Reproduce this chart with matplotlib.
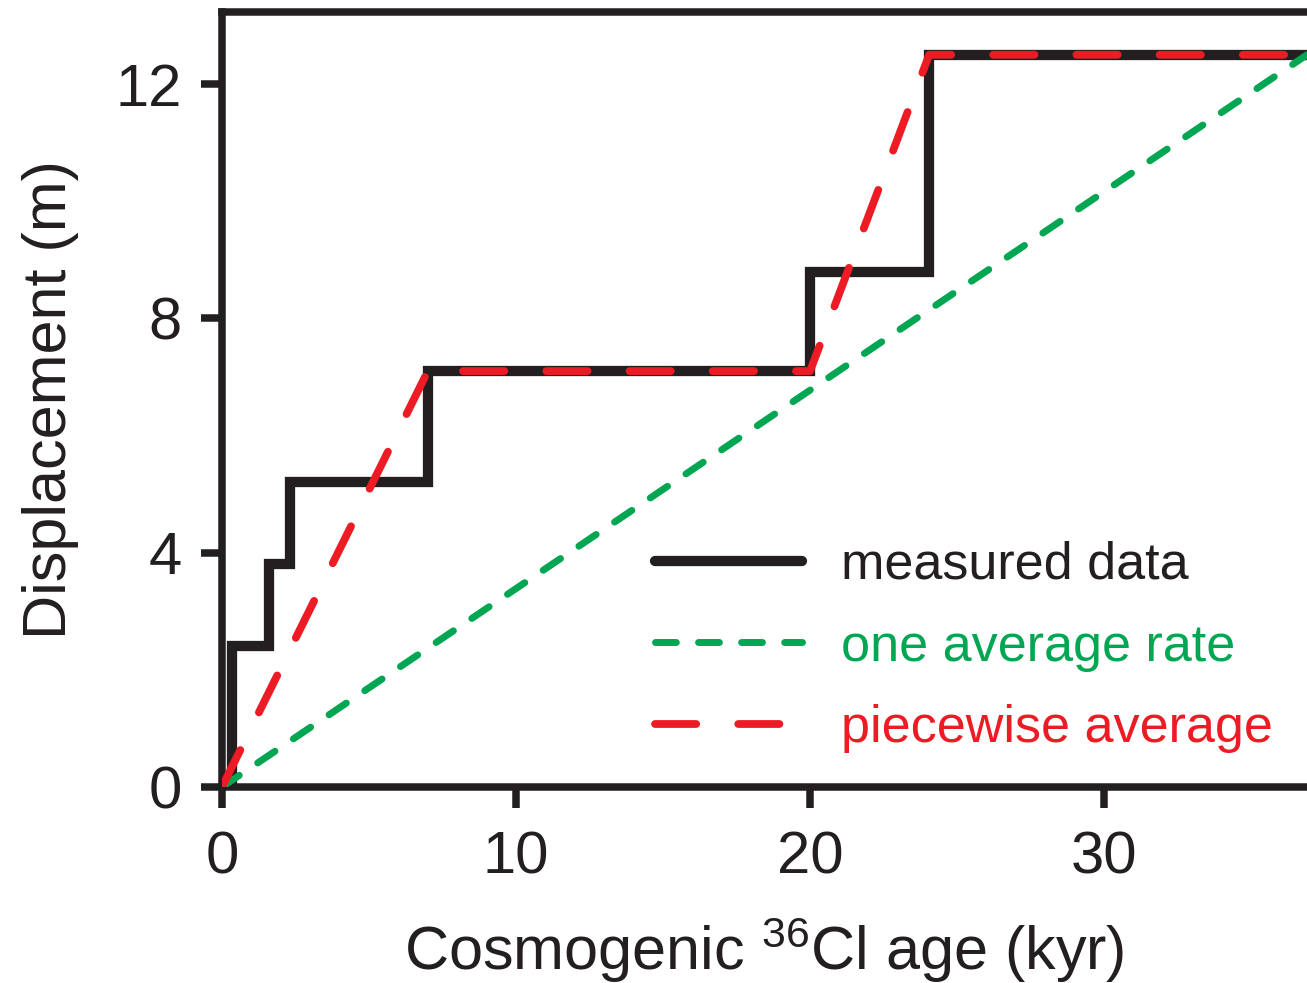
import matplotlib.pyplot as plt
from matplotlib.lines import Line2D

plt.rcParams["font.family"] = ["Liberation Sans", "DejaVu Sans"]
plt.rcParams["mathtext.fontset"] = "custom"
plt.rcParams["mathtext.rm"] = "Liberation Sans"
plt.rcParams["mathtext.it"] = "Liberation Sans"

BLACK = "#231f20"
GREEN = "#00a651"
RED = "#ed1c24"

# measured step history (age in kyr, displacement in m)
step_age = [0.35, 0.35, 1.6, 2.3, 7.0, 20.0, 24.05, 37.0]
step_disp = [0.0, 2.4, 3.8, 5.2, 7.1, 8.8, 12.5, 12.5]

# single average rate
avg_age = [0.0, 36.9]
avg_disp = [0.0, 12.5]

# piecewise average
pw_age = [0.0, 7.0, 20.0, 24.05, 37.0]
pw_disp = [0.0, 7.1, 7.1, 12.5, 12.5]

xticks = [0, 10, 20, 30]
yticks = [0, 4, 8, 12]

fig = plt.figure(figsize=(13.07, 9.83), dpi=100)
ax = fig.add_axes([222 / 1307, 1 - 787 / 983, 1 - 222 / 1307, (787 - 12) / 983])

ax.step(step_age, step_disp, where="post", color=BLACK, lw=7.4,
        solid_joinstyle="miter", solid_capstyle="butt", zorder=3)
ax.plot(avg_age, avg_disp, color=GREEN, lw=5.0, dashes=(3.0, 3.2),
        dash_capstyle="round", zorder=4)
ax.plot(pw_age, pw_disp, color=RED, lw=5.6, dashes=(5.3, 5.4),
        dash_capstyle="round", zorder=5)

ax.set_xlim(0, 36.9)
ax.set_ylim(0, 13.23)
ax.set_xticks(xticks)
ax.set_yticks(yticks)

for side in ["left", "top", "bottom"]:
    ax.spines[side].set_linewidth(5.4)
    ax.spines[side].set_color(BLACK)
ax.spines["right"].set_visible(False)
ax.tick_params(direction="out", length=15, width=5.4, color=BLACK,
               labelsize=43, labelcolor=BLACK)
ax.tick_params(axis="y", pad=14)
ax.tick_params(axis="x", pad=16)

ax.set_xlabel(r"Cosmogenic $^{36}$Cl age (kyr)", fontsize=44, color=BLACK, labelpad=22)
ax.set_ylabel("Displacement (m)", fontsize=44, color=BLACK, labelpad=26)

handles = [
    Line2D([], [], color=BLACK, lw=7.4, solid_capstyle="round"),
    Line2D([], [], color=GREEN, lw=5.0, dashes=(3.0, 3.2), dash_capstyle="round"),
    Line2D([], [], color=RED, lw=5.6, dashes=(5.3, 5.4), dash_capstyle="round"),
]
labels = ["measured data", "one average rate", "piecewise average"]
leg = ax.legend(handles, labels, loc="upper left",
                bbox_to_anchor=((634 - 222) / 1085, (787 - 520) / 775),
                frameon=False, fontsize=37.5, handlelength=2.82,
                handletextpad=0.76, labelspacing=0.63, borderaxespad=0)
for txt, col in zip(leg.get_texts(), [BLACK, GREEN, RED]):
    txt.set_color(col)

fig.savefig("out.png", dpi=100, facecolor="white")
